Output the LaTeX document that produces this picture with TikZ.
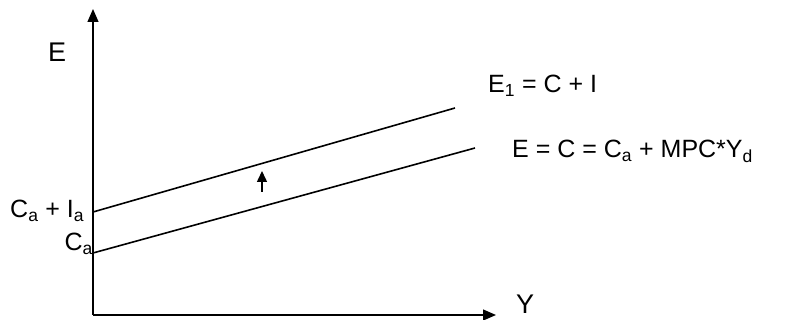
\documentclass[tikz,border=0pt]{standalone}
\usepackage{fontspec}
\setmainfont{Liberation Sans}
\usetikzlibrary{arrows.meta}
\begin{document}
\begin{tikzpicture}[x=1pt,y=-1pt,
  axis/.style={line width=1.2pt,-{Triangle[length=13pt,width=11pt]}},
  curve/.style={line width=1.6pt},
  shiftarrow/.style={line width=1.5pt,-{Triangle[length=11pt,width=10pt]}},
  lbl/.style={font=\fontsize{25}{30}\selectfont, inner sep=0pt},
  axlbl/.style={font=\fontsize{27}{32}\selectfont, inner sep=0pt}]
\useasboundingbox (0,0) rectangle (787,320);
\coordinate (O) at (93,315);
\coordinate (ytip) at (93,9);
\coordinate (xtip) at (496,315);
\draw[axis] (O) -- (ytip);
\draw[axis] (O) -- (xtip);
\coordinate (u0) at (93,212);
\coordinate (u1) at (455,108);
\coordinate (l0) at (93,253);
\coordinate (l1) at (475,148);
\draw[curve] (u0) -- (u1);
\draw[curve] (l0) -- (l1);
\coordinate (s0) at (262,192);
\coordinate (s1) at (262,171);
\draw[shiftarrow] (s0) -- (s1);
\node[axlbl, anchor=base west] (E) at (48,62) {E};
\node[axlbl, anchor=base west] (Y) at (516,313) {Y};
\node[lbl, anchor=base west] (e1) at (488,93) {E\textsubscript{1} = C + I};
\node[lbl, anchor=base west] (e0) at (512,158) {E = C = C\textsubscript{a} + MPC*Y\textsubscript{d}};
\node[lbl, anchor=base west] (cai) at (10,218) {C\textsubscript{a} + I\textsubscript{a}};
\node[lbl, anchor=base east] (ca) at (93,251) {C\textsubscript{a}};
\end{tikzpicture}
\end{document}
